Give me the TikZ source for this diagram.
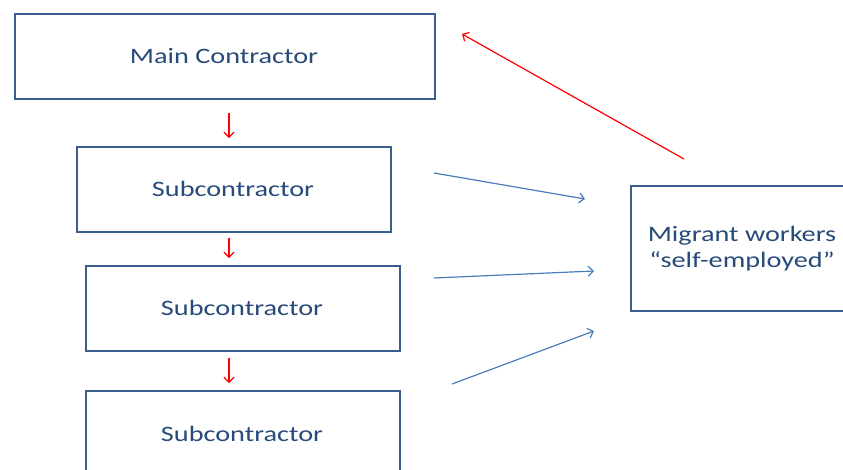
\documentclass[tikz,border=0pt]{standalone}
\usepackage{fontspec}
\setmainfont{Carlito}
\usetikzlibrary{arrows.meta}
\definecolor{boxline}{HTML}{3A5F8E}
\definecolor{txt}{HTML}{274B7A}
\definecolor{bluearr}{HTML}{4A7EBB}
\tikzset{
  boxnode/.style={draw=boxline, line width=2.4pt, fill=white, anchor=north west, inner sep=0pt},
  lbl/.style={text=txt, font=\fontsize{22}{27}\selectfont, align=center},
  redarr/.style={draw=red, line width=1.2pt, -{Straight Barb[length=5pt,width=10pt]}},
  bluearrow/.style={draw=bluearr, line width=1.2pt, -{Straight Barb[length=5pt,width=10pt]}}
}
\newcommand{\wide}[1]{\scalebox{1.285}[1]{#1}}
\begin{document}
\begin{tikzpicture}[x=1pt,y=-1pt]
\useasboundingbox (0,0) rectangle (843,469);
\clip (0,0) rectangle (843,469);
\node[boxnode, minimum width=420pt, minimum height=85pt] (main) at (14,13) {};
\node[lbl] (mainT) at (224,56) {\wide{Main Contractor}};
\node[boxnode, minimum width=314pt, minimum height=85pt] (sub1) at (76,146) {};
\node[lbl] (sub1T) at (233,189) {\wide{Subcontractor}};
\node[boxnode, minimum width=314pt, minimum height=85pt] (sub2) at (85,265) {};
\node[lbl] (sub2T) at (242,308) {\wide{Subcontractor}};
\node[boxnode, minimum width=314pt, minimum height=85pt] (sub3) at (85,390) {};
\node[lbl] (sub3T) at (242,434) {\wide{Subcontractor}};
\node[boxnode, minimum width=224pt, minimum height=125pt] (mig) at (630,185) {};
\node[lbl] (migT) at (742,249) {\wide{Migrant workers}\\[-1pt]\wide{“self-employed”}};
% coordinates
\coordinate (r1a) at (229,113); \coordinate (r1b) at (229,138);
\coordinate (r2a) at (229,238); \coordinate (r2b) at (229,258);
\coordinate (r3a) at (229,358); \coordinate (r3b) at (229,383);
\coordinate (rla) at (684,159); \coordinate (rlb) at (462,34);
\coordinate (b1a) at (434,173); \coordinate (b1b) at (585,199);
\coordinate (b2a) at (434,278); \coordinate (b2b) at (594,271);
\coordinate (b3a) at (452,384); \coordinate (b3b) at (594,331);
\draw[redarr] (r1a) -- (r1b);
\draw[redarr] (r2a) -- (r2b);
\draw[redarr] (r3a) -- (r3b);
\draw[redarr] (rla) -- (rlb);
\draw[bluearrow] (b1a) -- (b1b);
\draw[bluearrow] (b2a) -- (b2b);
\draw[bluearrow] (b3a) -- (b3b);
\end{tikzpicture}
\end{document}
